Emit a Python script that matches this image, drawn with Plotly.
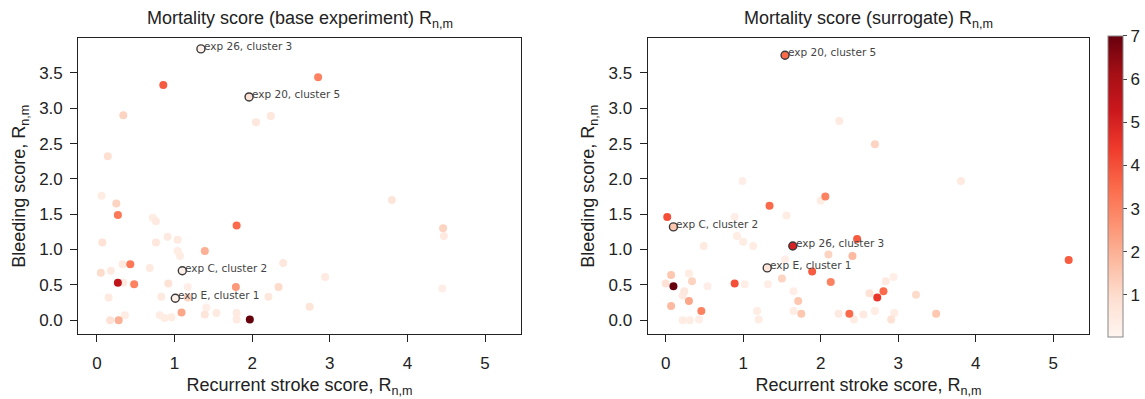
import plotly.graph_objects as go

# ---------------- data: left panel (base experiment) ----------------
base_x = [0.855, 2.85, 0.34, 2.05, 2.24, 0.14, 0.06, 0.25, 0.27, 0.72, 0.76, 1.80, 3.80, 4.46, 4.47,
          0.07, 0.76, 0.91, 1.04, 1.04, 1.07, 1.39, 0.43, 0.33, 0.68, 2.40, 0.05, 0.18, 0.27, 0.34,
          0.48, 0.92, 1.17, 1.79, 2.34, 2.94, 4.45, 0.15, 0.83, 1.17, 2.21, 2.74, 1.09, 1.39, 1.54,
          1.80, 1.80, 1.97, 0.17, 0.28, 0.36, 0.81, 0.87, 0.96, 1.41]
base_y = [3.33, 3.44, 2.90, 2.80, 2.89, 2.32, 1.76, 1.65, 1.49, 1.45, 1.40, 1.34, 1.70, 1.30, 1.19,
          1.10, 1.10, 1.18, 1.14, 0.98, 0.91, 0.98, 0.79, 0.79, 0.74, 0.81, 0.67, 0.70, 0.53, 0.53,
          0.51, 0.52, 0.47, 0.47, 0.47, 0.61, 0.45, 0.32, 0.33, 0.32, 0.33, 0.19, 0.11, 0.08, 0.10,
          0.10, 0.01, 0.01, 0.00, 0.00, 0.07, 0.07, 0.03, 0.04, 0.18]
base_v = [3.8, 3.0, 1.2, 0.6, 0.6, 0.9, 0.4, 1.2, 3.2, 0.4, 0.5, 3.5, 0.7, 1.2, 0.5,
          0.8, 0.6, 0.5, 0.5, 0.4, 0.4, 2.0, 3.2, 0.5, 0.5, 0.6, 1.0, 0.5, 5.5, 0.5,
          3.0, 0.8, 0.3, 2.5, 1.0, 0.5, 0.3, 0.5, 0.5, 1.2, 0.6, 0.7, 2.2, 0.7, 0.5,
          0.5, 0.5, 7.0, 0.8, 2.0, 0.4, 0.4, 0.4, 0.4, 0.3]

base_lab_x = [1.34, 1.96, 1.10, 1.01]
base_lab_y = [3.84, 3.16, 0.70, 0.31]
base_lab_v = [0.2, 0.8, 0.2, 0.2]
base_lab_t = ["exp 26, cluster 3", "exp 20, cluster 5", "exp C, cluster 2", "exp E, cluster 1"]

# ---------------- data: right panel (surrogate) ----------------
sur_x = [2.24, 2.70, 0.99, 3.81, 2.06, 2.00, 1.34, 1.56, 0.02, 0.89, 0.92, 1.00, 1.13, 0.49, 2.47,
         2.10, 2.41, 5.20, 1.54, 1.89, 1.50, 2.13, 0.07, 0.30, 0.34, 0.00, 0.10, 0.54, 0.89, 1.02,
         1.32, 0.24, 0.22, 0.30, 0.07, 0.46, 0.22, 0.31, 0.43, 1.18, 1.20, 1.65, 1.71, 1.65, 1.75,
         2.23, 2.37, 2.43, 2.55, 2.70, 2.63, 2.73, 2.81, 2.84, 2.94, 2.91, 2.95, 3.23, 3.49]
sur_y = [2.82, 2.49, 1.97, 1.97, 1.75, 1.69, 1.62, 1.48, 1.46, 1.46, 1.19, 1.11, 1.05, 1.05, 1.15,
         0.93, 0.91, 0.85, 0.86, 0.69, 0.59, 0.54, 0.64, 0.66, 0.55, 0.52, 0.48, 0.48, 0.52, 0.51,
         0.51, 0.41, 0.35, 0.27, 0.20, 0.13, 0.00, 0.00, 0.01, 0.13, 0.01, 0.41, 0.27, 0.13, 0.09,
         0.09, 0.09, 0.01, 0.08, 0.13, 0.38, 0.32, 0.41, 0.55, 0.61, 0.01, 0.10, 0.36, 0.09]
sur_v = [0.5, 1.2, 0.3, 0.5, 3.0, 0.4, 3.5, 0.4, 4.0, 0.3, 0.4, 0.4, 0.4, 0.5, 3.8,
         1.2, 1.8, 3.8, 0.3, 3.8, 1.2, 3.0, 1.5, 0.4, 1.2, 0.8, 7.0, 0.3, 4.0, 0.3,
         0.3, 0.6, 0.5, 2.2, 1.8, 3.0, 0.4, 0.4, 0.3, 0.4, 0.4, 0.3, 1.5, 0.4, 1.5,
         0.5, 3.5, 0.4, 0.5, 0.4, 0.8, 4.5, 3.5, 0.5, 0.3, 0.8, 0.4, 1.0, 1.5]

sur_lab_x = [1.54, 0.10, 1.64, 1.31]
sur_lab_y = [3.75, 1.32, 1.05, 0.74]
sur_lab_v = [3.5, 1.5, 5.0, 0.7]
sur_lab_t = ["exp 20, cluster 5", "exp C, cluster 2", "exp 26, cluster 3", "exp E, cluster 1"]

x_ticks = [0, 1, 2, 3, 4, 5]
y_ticks = [0.0, 0.5, 1.0, 1.5, 2.0, 2.5, 3.0, 3.5]
cbar_ticks = [1, 2, 3, 4, 5, 6, 7]
titles = ["Mortality score (base experiment) R<sub>n,m</sub>", "Mortality score (surrogate) R<sub>n,m</sub>"]
xlabel = "Recurrent stroke score, R<sub>n,m</sub>"
ylabel = "Bleeding score, R<sub>n,m</sub>"

CMIN, CMAX = 0.03, 7.0
W, H = 1145, 399

def sort_by_v(xs, ys, vs):
    order = sorted(range(len(vs)), key=lambda i: vs[i])
    return [xs[i] for i in order], [ys[i] for i in order], [vs[i] for i in order]

fig = go.Figure()

panels = [
    (base_x, base_y, base_v, base_lab_x, base_lab_y, base_lab_v, base_lab_t, "x", "y"),
    (sur_x, sur_y, sur_v, sur_lab_x, sur_lab_y, sur_lab_v, sur_lab_t, "x2", "y2"),
]

FONT = "Liberation Sans, Arial, Helvetica"
tick_font = dict(family=FONT, size=17, color="#222")
title_font = dict(family=FONT, size=18, color="#222")

for k, (xs, ys, vs, lx, ly, lv, lt, xa, ya) in enumerate(panels):
    sx, sy, sv = sort_by_v(xs, ys, vs)
    fig.add_trace(go.Scatter(
        x=sx, y=sy, mode="markers", xaxis=xa, yaxis=ya, showlegend=False,
        marker=dict(size=8, color=sv, colorscale="Reds", cmin=CMIN, cmax=CMAX,
                    line=dict(width=0), showscale=False),
    ))
    fig.add_trace(go.Scatter(
        x=lx, y=ly, mode="markers", xaxis=xa, yaxis=ya, showlegend=False,
        marker=dict(size=8, color=lv, colorscale="Reds", cmin=CMIN, cmax=CMAX,
                    line=dict(width=1.4, color="#3a3a3a"),
                    showscale=(k == 1),
                    colorbar=dict(
                        x=1108 / W, xanchor="left", xpad=0, ypad=0,
                        y=1 - (36 + 336.7) / 2 / H, yanchor="middle",
                        len=(336.7 - 36) / H, lenmode="fraction",
                        thickness=15, thicknessmode="pixels",
                        outlinewidth=1, outlinecolor="#888888",
                        tickvals=cbar_ticks, ticks="outside", ticklen=4, tickcolor="#444",
                        tickfont=tick_font,
                    )),
    ))
    for tx, ty, tt in zip(lx, ly, lt):
        fig.add_annotation(x=tx, y=ty, xref=xa, yref=ya, text=tt, showarrow=False,
                           xanchor="left", yanchor="middle", xshift=1, yshift=3,
                           font=dict(family="DejaVu Sans", size=10.5, color="#444444"))

axis_common = dict(
    showline=True, mirror=True, linecolor="#222", linewidth=1.2,
    ticks="outside", ticklen=7, tickcolor="#222", tickwidth=1,
    showgrid=False, zeroline=False, automargin=False,
    tickfont=tick_font,
)

xd1 = [78.3 / W, 520.7 / W]
xd2 = [647.7 / W, 1089.3 / W]
yd = [1 - 334.3 / H, 1 - 38.3 / H]

fig.update_layout(
    width=W, height=H, margin=dict(l=0, r=0, t=0, b=0),
    paper_bgcolor="white", plot_bgcolor="white",
    xaxis=dict(axis_common, domain=xd1, anchor="y", range=[-0.24, 5.46], tickvals=x_ticks,
               ticklabelstandoff=6,
               title=dict(text=xlabel, font=title_font, standoff=6)),
    yaxis=dict(axis_common, domain=yd, anchor="x", range=[-0.20, 3.99], tickvals=y_ticks,
               tickformat=".1f", ticklabelstandoff=4,
               title=dict(text=ylabel, font=title_font, standoff=8)),
    xaxis2=dict(axis_common, domain=xd2, anchor="y2", range=[-0.232, 5.466], tickvals=x_ticks,
                ticklabelstandoff=6,
                title=dict(text=xlabel, font=title_font, standoff=6)),
    yaxis2=dict(axis_common, domain=yd, anchor="x2", range=[-0.20, 3.99], tickvals=y_ticks,
                tickformat=".1f", ticklabelstandoff=4,
                title=dict(text=ylabel, font=title_font, standoff=9)),
)

for xd, t in zip([xd1, xd2], titles):
    fig.add_annotation(x=(xd[0] + xd[1]) / 2, y=1 - 19 / H, xref="paper", yref="paper",
                       text=t, showarrow=False, xanchor="center", yanchor="middle",
                       font=title_font)

fig.write_html("out.html", config={"displayModeBar": False},
               post_script="document.body.style.margin='0';")
